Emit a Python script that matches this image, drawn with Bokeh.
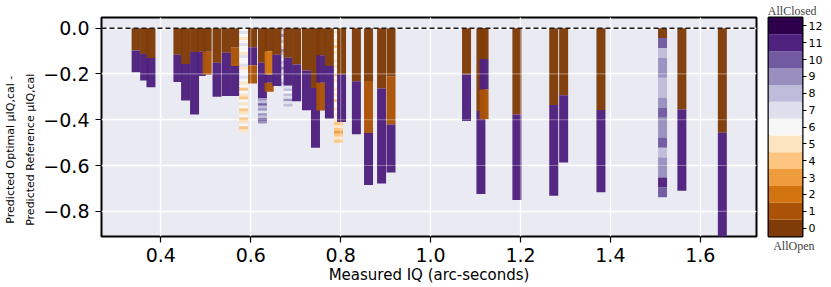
from bokeh.plotting import figure
from bokeh.models import FixedTicker, Span, Title
from bokeh.layouts import row
from bokeh.embed import file_html
from bokeh.resources import INLINE

# PuOr palette, 13 levels: 0 = AllOpen ... 12 = AllClosed
palette = ["#7f3b08", "#aa5306", "#d1740f", "#ef9d3c", "#fdc57f", "#fde4c1", "#f7f7f7",
           "#dddfed", "#bfbbda", "#998fbf", "#715aa0", "#4e217e", "#2d004b"]
cbar_levels = list(range(13))
cbar_labels = [str(i) for i in cbar_levels]

x_ticks = [0.4, 0.6, 0.8, 1.0, 1.2, 1.4, 1.6]
x_tick_labels = ["0.4", "0.6", "0.8", "1.0", "1.2", "1.4", "1.6"]
y_ticks = [0.0, -0.2, -0.4, -0.6, -0.8]
y_tick_labels = ["0.0", "\u22120.2", "\u22120.4", "\u22120.6", "\u22120.8"]

# Each bar: measured IQ, bottoms of its successive blocks (from 0 downwards),
# and for each block the vent-closure level(s) drawn in it (several = thin stripes)
bar_iq = [0.345, 0.364, 0.378, 0.438, 0.455, 0.490, 0.475, 0.503, 0.525, 0.546,
          0.566, 0.584, 0.604, 0.626, 0.641, 0.671, 0.658, 0.683, 0.702, 0.724,
          0.744, 0.756, 0.775, 0.795, 0.802, 0.835, 0.862, 0.891, 0.912, 1.080,
          1.112, 1.119, 1.192, 1.274, 1.296, 1.379, 1.516, 1.559, 1.649]
bar_bottoms = [
    [-0.098, -0.193], [-0.113, -0.229], [-0.130, -0.258], [-0.116, -0.235],
    [-0.157, -0.316], [-0.103, -0.209], [-0.104, -0.377], [-0.103, -0.203],
    [-0.151, -0.300], [-0.107, -0.296], [-0.083, -0.165, -0.296], [-0.455],
    [-0.083, -0.162, -0.242], [-0.151, -0.306, -0.416], [-0.101, -0.203, -0.239, -0.278],
    [-0.260], [-0.116, -0.253], [-0.129, -0.252, -0.342], [-0.159, -0.319],
    [-0.185, -0.359], [-0.261, -0.522], [-0.118, -0.238, -0.360], [-0.165, -0.395],
    [-0.410, -0.500], [-0.201, -0.410], [-0.232, -0.463], [-0.231, -0.458, -0.685],
    [-0.264, -0.678], [-0.210, -0.421, -0.630], [-0.202, -0.405], [-0.362, -0.724],
    [-0.135, -0.268, -0.398], [-0.377, -0.751], [-0.336, -0.732], [-0.293, -0.587],
    [-0.358, -0.717],
    [-0.043, -0.087, -0.130, -0.217, -0.304, -0.348, -0.391, -0.478, -0.522, -0.565,
     -0.652, -0.696, -0.739],
    [-0.355, -0.710], [-0.457, -0.950],
]
bar_cats = [
    [[0], [11]], [[0], [11]], [[0], [11]], [[0], [11]],
    [[0], [11]], [[0], [11]], [[0], [11]], [[0], [1]],
    [[0], [11]], [[0], [11]], [[0], [1], [11]],
    [[6, 7, 6, 5, 6, 7, 6, 6, 5, 7, 6, 6, 7, 5, 6, 6, 7, 6, 5, 6,
      4, 6, 5, 4, 6, 5, 6, 4, 5, 6, 4, 5, 6, 4, 5]],
    [[0], [11], [1]], [[0], [11], [9, 8, 10, 8, 9, 7, 9, 8, 10, 9]], [[0], [2], [11], [1]],
    [[8, 7, 9, 7, 8, 6, 7, 9, 8, 7, 6, 8, 7, 9, 7, 8, 6, 7, 8, 7]], [[0], [11]],
    [[0], [11], [7, 8, 6, 8, 7, 9, 7, 8]], [[0], [11]],
    [[0], [11]], [[0], [11]], [[0], [11], [1]], [[0], [11]],
    [[6, 5, 6, 6, 5, 6, 4, 6, 5, 6, 6, 5, 6, 5, 6, 6, 4, 6, 5, 6, 6, 5, 6, 5, 6, 4,
      6, 6, 5, 6, 5, 6, 5], [4, 5, 4, 3, 4, 5, 4]],
    [[0], [11]], [[0], [11]], [[0], [1], [11]],
    [[0], [11]], [[0], [1], [11]], [[0], [11]], [[0], [11]],
    [[0], [11], [1]], [[0], [11]], [[0], [11]], [[0], [11]],
    [[0], [11]],
    [[0], [10], [8], [9], [8], [9], [10], [9], [10], [8], [9], [11], [10]],
    [[0], [11]], [[0], [11]],
]

X0, X1 = 0.268, 1.725
Y0, Y1 = -0.91, 0.0465
BAR_W = 0.02

left, right, top, bottom, color = [], [], [], [], []
for iq, bots, cats in zip(bar_iq, bar_bottoms, bar_cats):
    upper = 0.0
    for b, cl in zip(bots, cats):
        step = (upper - b) / len(cl)
        for k, c in enumerate(cl):
            left.append(iq - BAR_W / 2)
            right.append(iq + BAR_W / 2)
            top.append(upper - k * step)
            bottom.append(upper - (k + 1) * step)
            color.append(palette[c])
        upper = b

p = figure(width=760, height=287, x_range=(X0, X1), y_range=(Y0, Y1),
           output_backend="svg", toolbar_location=None,
           min_border_left=100, min_border_right=4, min_border_top=16, min_border_bottom=51,
           background_fill_color="#eaeaf2", border_fill_color="white")
p.outline_line_color = "black"
p.outline_line_width = 2

for ax, ticks, labels in ((p.xaxis, x_ticks, x_tick_labels), (p.yaxis, y_ticks, y_tick_labels)):
    ax.ticker = FixedTicker(ticks=ticks)
    ax.major_label_overrides = {t: l for t, l in zip(ticks, labels)}
    ax.axis_line_color = None
    ax.major_tick_out = 6
    ax.major_tick_in = 0
    ax.major_tick_line_color = "black"
    ax.major_tick_line_width = 1.2
    ax.minor_tick_line_color = None
    ax.major_label_text_font = "DejaVu Sans"
    ax.major_label_text_font_size = "19px"
    ax.major_label_text_color = "black"
    ax.axis_label_text_font = "DejaVu Sans"
    ax.axis_label_text_font_style = "normal"
    ax.axis_label_text_color = "black"
p.xaxis.major_label_standoff = 5
p.yaxis.major_label_standoff = 6

p.xaxis.axis_label = "Measured IQ (arc-seconds)"
p.xaxis.axis_label_text_font_size = "15px"
p.xaxis.axis_label_standoff = 1

pad = "\u00a0" * 13
p.yaxis.axis_label = ("Predicted Optimal \u03bcIQ,cal -" + pad + "\n"
                      + "Predicted Reference \u03bcIQ,cal" + pad)
p.yaxis.axis_label_text_font_size = "11px"
p.yaxis.axis_label_text_line_height = 1.6
p.yaxis.axis_label_standoff = 3

p.xgrid.ticker = FixedTicker(ticks=x_ticks)
p.ygrid.ticker = FixedTicker(ticks=y_ticks)
p.grid.grid_line_color = "white"
p.grid.grid_line_width = 1.3

p.quad(left=left, right=right, top=top, bottom=bottom, fill_color=color,
       line_color=None, fill_alpha=0.97)

# faint grid lines showing over the bars
for t in x_ticks:
    p.add_layout(Span(location=t, dimension="height", line_color="white",
                      line_alpha=0.35, line_width=1.2, level="overlay"))
for t in y_ticks[1:]:
    p.add_layout(Span(location=t, dimension="width", line_color="white",
                      line_alpha=0.35, line_width=1.2, level="overlay"))
p.add_layout(Span(location=0.0, dimension="width", line_color="#1a1a1a",
                  line_width=1.5, line_dash="5 3", level="overlay"))

# colour bar
cb = figure(width=67, height=287, x_range=(0, 1), y_range=(0, 13),
            y_axis_location="right", output_backend="svg", toolbar_location=None,
            min_border_left=8, min_border_right=25, min_border_top=17, min_border_bottom=51,
            border_fill_color="white")
cb.quad(left=0, right=1, bottom=cbar_levels, top=[v + 1 for v in cbar_levels],
        fill_color=palette, line_color=None)
cb.xaxis.visible = False
cb.grid.visible = False
cb.outline_line_color = "black"
cb.outline_line_width = 2
cb.yaxis.ticker = FixedTicker(ticks=[v + 0.5 for v in cbar_levels])
cb.yaxis.major_label_overrides = {v + 0.5: l for v, l in zip(cbar_levels, cbar_labels)}
cb.yaxis.axis_line_color = None
cb.yaxis.major_tick_out = 4
cb.yaxis.major_tick_in = 0
cb.yaxis.minor_tick_line_color = None
cb.yaxis.major_tick_line_color = "black"
cb.yaxis.major_label_standoff = 2
cb.yaxis.major_label_text_font = "DejaVu Sans"
cb.yaxis.major_label_text_font_size = "11px"
cb.yaxis.major_label_text_color = "black"

cb.title.text = "AllClosed"
cb.title.align = "right"
cb.title.offset = -14
cb.title.text_font = "Liberation Serif"
cb.title.text_font_size = "12px"
cb.title.text_font_style = "normal"
cb.title.standoff = 0
cb.add_layout(Title(text="AllOpen", align="right", offset=-12, text_font="Liberation Serif",
                    text_font_size="12px", text_font_style="normal", standoff=0), "below")

layout = row(p, cb)
open("out.html", "w").write(file_html(layout, INLINE))
